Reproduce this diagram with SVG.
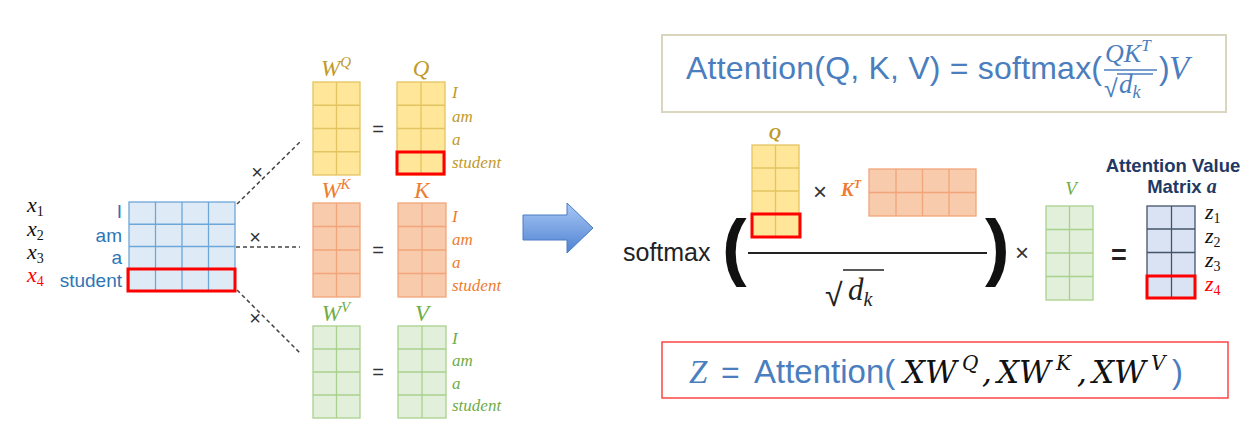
<svg xmlns="http://www.w3.org/2000/svg" width="1252" height="430" viewBox="0 0 1252 430">
<style>
.sans{font-family:"Liberation Sans",Arial,sans-serif}
.mi{font-family:"Liberation Serif","Times New Roman",serif;font-style:italic}
.mw{font-family:"DejaVu Serif","Liberation Serif",serif;font-style:italic}
.up{font-family:"Liberation Serif","Times New Roman",serif}
.gx rect,.gx line{stroke:#6fa6d8;stroke-width:1.3}
.gx rect{fill:#deebf7}
.gq rect,.gq line{stroke:#e3c462;stroke-width:1.3}
.gq rect{fill:#ffe699}
.gk rect,.gk line{stroke:#f2a57a;stroke-width:1.3}
.gk rect{fill:#f8cbad}
.gv rect,.gv line{stroke:#a9d18e;stroke-width:1.3}
.gv rect{fill:#e2efda}
.gz rect,.gz line{stroke:#44546a;stroke-width:1.3}
.gz rect{fill:#dae3f3}
.hl{fill:none;stroke:#ff0000;stroke-width:3}
.tq{fill:#c19a2b}
.tk{fill:#ed7d31}
.tv{fill:#70ad47}
.tb{fill:#2e75b6}
.op{font-family:"Liberation Sans",Arial,sans-serif;fill:#333}
.dash{stroke:#444;stroke-width:1.5;stroke-dasharray:4 3;fill:none}
.blue{fill:#4a7ebe}
</style>
<defs>
<linearGradient id="arrowGrad" x1="0" y1="0" x2="0" y2="1">
<stop offset="0" stop-color="#a9c8f5"/>
<stop offset="1" stop-color="#4f82d2"/>
</linearGradient>
</defs>

<g id="connectors">
<line class="dash" x1="237" y1="204" x2="302" y2="140"/>
<line class="dash" x1="236" y1="247" x2="300" y2="247"/>
<line class="dash" x1="237" y1="290" x2="300" y2="353"/>
</g>

<g id="x-input">
<g class="gx">
<rect x="129" y="202" width="106" height="89"/>
<line x1="155.5" y1="202" x2="155.5" y2="291"/>
<line x1="182" y1="202" x2="182" y2="291"/>
<line x1="208.5" y1="202" x2="208.5" y2="291"/>
<line x1="129" y1="224.25" x2="235" y2="224.25"/>
<line x1="129" y1="246.5" x2="235" y2="246.5"/>
<line x1="129" y1="268.75" x2="235" y2="268.75"/>
</g>
<rect class="hl" x="128" y="269" width="107" height="22"/>
<g class="sans tb" font-size="19" text-anchor="end">
<text x="122" y="218">I</text>
<text x="122" y="242">am</text>
<text x="122" y="264">a</text>
<text x="122" y="287">student</text>
</g>
<g font-size="22">
<text x="27" y="212" class="mi" fill="#111">x<tspan class="up" font-style="normal" font-size="14" dy="4">1</tspan></text>
<text x="27" y="236" class="mi" fill="#111">x<tspan class="up" font-style="normal" font-size="14" dy="4">2</tspan></text>
<text x="27" y="259" class="mi" fill="#111">x<tspan class="up" font-style="normal" font-size="14" dy="4">3</tspan></text>
<text x="27" y="282" class="mi" fill="#ff0000">x<tspan class="up" font-style="normal" font-size="14" dy="4">4</tspan></text>
</g>
</g>

<g id="ops-left" class="op">
<text x="257" y="179" font-size="20" text-anchor="middle">×</text>
<text x="255" y="244" font-size="20" text-anchor="middle">×</text>
<text x="255" y="325" font-size="20" text-anchor="middle">×</text>
<text x="378" y="136" font-size="20" text-anchor="middle">=</text>
<text x="378" y="257" font-size="20" text-anchor="middle">=</text>
<text x="378" y="379" font-size="20" text-anchor="middle">=</text>
</g>

<g id="wq">
<text x="336" y="76" class="mi tq" font-size="23" text-anchor="middle">W<tspan font-size="15" dy="-9">Q</tspan></text>
<g class="gq">
<rect x="313" y="82" width="47" height="93"/>
<line x1="336.5" y1="82" x2="336.5" y2="175"/>
<line x1="313" y1="105.25" x2="360" y2="105.25"/>
<line x1="313" y1="128.5" x2="360" y2="128.5"/>
<line x1="313" y1="151.75" x2="360" y2="151.75"/>
</g>
</g>

<g id="q">
<text x="421" y="76" class="mi tq" font-size="23" text-anchor="middle">Q</text>
<g class="gq">
<rect x="397" y="82" width="48" height="93"/>
<line x1="421" y1="82" x2="421" y2="175"/>
<line x1="397" y1="105.25" x2="445" y2="105.25"/>
<line x1="397" y1="128.5" x2="445" y2="128.5"/>
<line x1="397" y1="151.75" x2="445" y2="151.75"/>
</g>
<rect class="hl" x="397" y="152" width="47" height="22"/>
<g class="mi tq" font-size="17">
<text x="452" y="98">I</text>
<text x="452" y="122">am</text>
<text x="452" y="145">a</text>
<text x="452" y="168">student</text>
</g>
</g>

<g id="wk">
<text x="336" y="198" class="mi tk" font-size="23" text-anchor="middle">W<tspan font-size="15" dy="-9">K</tspan></text>
<g class="gk">
<rect x="313" y="203" width="47" height="94"/>
<line x1="336.5" y1="203" x2="336.5" y2="297"/>
<line x1="313" y1="226.5" x2="360" y2="226.5"/>
<line x1="313" y1="250" x2="360" y2="250"/>
<line x1="313" y1="273.5" x2="360" y2="273.5"/>
</g>
</g>

<g id="k">
<text x="422" y="198" class="mi tk" font-size="23" text-anchor="middle">K</text>
<g class="gk">
<rect x="398" y="203" width="48" height="94"/>
<line x1="422" y1="203" x2="422" y2="297"/>
<line x1="398" y1="226.5" x2="446" y2="226.5"/>
<line x1="398" y1="250" x2="446" y2="250"/>
<line x1="398" y1="273.5" x2="446" y2="273.5"/>
</g>
<g class="mi tk" font-size="17">
<text x="452" y="222">I</text>
<text x="452" y="245">am</text>
<text x="452" y="268">a</text>
<text x="452" y="291">student</text>
</g>
</g>

<g id="wv">
<text x="336" y="321" class="mi tv" font-size="23" text-anchor="middle">W<tspan font-size="15" dy="-9">V</tspan></text>
<g class="gv">
<rect x="313" y="326" width="47" height="92"/>
<line x1="336.5" y1="326" x2="336.5" y2="418"/>
<line x1="313" y1="349" x2="360" y2="349"/>
<line x1="313" y1="372" x2="360" y2="372"/>
<line x1="313" y1="395" x2="360" y2="395"/>
</g>
</g>

<g id="v">
<text x="422" y="321" class="mi tv" font-size="23" text-anchor="middle">V</text>
<g class="gv">
<rect x="398" y="326" width="48" height="92"/>
<line x1="422" y1="326" x2="422" y2="418"/>
<line x1="398" y1="349" x2="446" y2="349"/>
<line x1="398" y1="372" x2="446" y2="372"/>
<line x1="398" y1="395" x2="446" y2="395"/>
</g>
<g class="mi tv" font-size="17">
<text x="452" y="344">I</text>
<text x="452" y="366">am</text>
<text x="452" y="389">a</text>
<text x="452" y="411">student</text>
</g>
</g>

<g id="arrow">
<polygon points="523,215 567,215 567,203 593,228 567,253 567,240 523,240" fill="url(#arrowGrad)" stroke="#4a7cc4" stroke-width="1"/>
</g>

<g id="formula-top">
<rect x="662" y="35" width="564" height="77" fill="#fff" stroke="#d9d5bf" stroke-width="2"/>
<text x="686" y="79" class="sans blue" font-size="32" textLength="416" lengthAdjust="spacing">Attention(Q, K, V) = softmax(</text>
<text x="1105" y="62" class="mi blue" font-size="26">QK<tspan font-size="17" dy="-11">T</tspan></text>
<line x1="1104" y1="70" x2="1157" y2="70" stroke="#4a7ebe" stroke-width="1.6"/>
<text x="1104" y="97" class="sans blue" font-size="25">√</text>
<line x1="1117" y1="74" x2="1153" y2="74" stroke="#4a7ebe" stroke-width="1.4"/>
<text x="1119" y="93" class="mi blue" font-size="27">d<tspan font-size="18" dy="5">k</tspan></text>
<text x="1159" y="79" class="sans blue" font-size="32">)</text>
<text x="1169" y="79" class="mi blue" font-size="33">V</text>
</g>

<g id="q-small">
<text x="775" y="139" class="mi tq" font-size="17" font-weight="bold" text-anchor="middle">Q</text>
<g class="gq">
<rect x="752" y="145" width="47" height="92"/>
<line x1="775.5" y1="145" x2="775.5" y2="237"/>
<line x1="752" y1="168" x2="799" y2="168"/>
<line x1="752" y1="191" x2="799" y2="191"/>
<line x1="752" y1="214" x2="799" y2="214"/>
</g>
<rect class="hl" x="752" y="214" width="48" height="23"/>
</g>

<g id="kt">
<text x="841" y="196" class="mi tk" font-size="19" font-weight="bold">K<tspan font-size="12" dy="-8">T</tspan></text>
<g class="gk">
<rect x="869" y="169" width="107" height="47"/>
<line x1="896" y1="169" x2="896" y2="216"/>
<line x1="922.5" y1="169" x2="922.5" y2="216"/>
<line x1="949" y1="169" x2="949" y2="216"/>
<line x1="869" y1="192.5" x2="976" y2="192.5"/>
</g>
</g>

<g id="softmax-expr">
<text x="820" y="200" class="op" font-size="24" text-anchor="middle" fill="#222">×</text>
<text x="623" y="261" class="sans" font-size="25" fill="#222">softmax</text>
<text x="722" y="272" class="sans" font-size="74" font-weight="bold" fill="#111">(</text>
<line x1="748" y1="253" x2="987" y2="253" stroke="#222" stroke-width="2"/>
<text x="825" y="306" class="sans" font-size="32" fill="#222">√</text>
<line x1="843" y1="270" x2="884" y2="270" stroke="#222" stroke-width="1.5"/>
<text x="848" y="300" class="mi" font-size="31" fill="#222">d<tspan font-size="20" dy="6">k</tspan></text>
<text x="985" y="272" class="sans" font-size="74" font-weight="bold" fill="#111">)</text>
<text x="1022" y="261" class="op" font-size="24" text-anchor="middle" fill="#222">×</text>
</g>

<g id="v-small">
<text x="1071" y="195" class="mi tv" font-size="19" text-anchor="middle">V</text>
<g class="gv">
<rect x="1046" y="206" width="47" height="94"/>
<line x1="1069.5" y1="206" x2="1069.5" y2="300"/>
<line x1="1046" y1="229.5" x2="1093" y2="229.5"/>
<line x1="1046" y1="253" x2="1093" y2="253"/>
<line x1="1046" y1="276.5" x2="1093" y2="276.5"/>
</g>
<text x="1119" y="264" class="sans" font-size="27" font-weight="bold" text-anchor="middle" fill="#222">=</text>
</g>

<g id="attention-value">
<text x="1173" y="172" class="sans" font-size="18.5" font-weight="bold" text-anchor="middle" fill="#1f3864">Attention Value</text>
<text x="1182" y="193" class="sans" font-size="18.5" font-weight="bold" text-anchor="middle" fill="#1f3864">Matrix <tspan class="mi" font-weight="bold" font-size="20">a</tspan></text>
<g class="gz">
<rect x="1147" y="206" width="48" height="92"/>
<line x1="1171.5" y1="206" x2="1171.5" y2="298"/>
<line x1="1147" y1="229" x2="1195" y2="229"/>
<line x1="1147" y1="252.5" x2="1195" y2="252.5"/>
<line x1="1147" y1="276" x2="1195" y2="276"/>
</g>
<rect class="hl" x="1147" y="276" width="48" height="22"/>
<g font-size="22">
<text x="1205" y="219" class="mi" fill="#111">z<tspan class="up" font-style="normal" font-size="14" dy="4">1</tspan></text>
<text x="1205" y="243" class="mi" fill="#111">z<tspan class="up" font-style="normal" font-size="14" dy="4">2</tspan></text>
<text x="1205" y="267" class="mi" fill="#111">z<tspan class="up" font-style="normal" font-size="14" dy="4">3</tspan></text>
<text x="1205" y="291" class="mi" fill="#ff0000">z<tspan class="up" font-style="normal" font-size="14" dy="4">4</tspan></text>
</g>
</g>

<g id="formula-bottom">
<rect x="662" y="342" width="566" height="56" fill="#fff" stroke="#ff4545" stroke-width="1.5"/>
<text x="689" y="383" class="mi blue" font-size="33">Z</text>
<text x="721" y="383" class="sans blue" font-size="32">=</text>
<text x="754" y="383" class="sans blue" font-size="33">Attention(</text>
<text y="383" class="mw" font-size="31" fill="#111"><tspan x="903">X</tspan><tspan x="925">W</tspan><tspan x="962" font-size="20" dy="-13">Q</tspan><tspan x="982" dy="13">,</tspan><tspan x="997">X</tspan><tspan x="1019">W</tspan><tspan x="1056" font-size="20" dy="-13">K</tspan><tspan x="1077" dy="13">,</tspan><tspan x="1092">X</tspan><tspan x="1114">W</tspan><tspan x="1151" font-size="20" dy="-13">V</tspan></text>
<text x="1172" y="383" class="sans blue" font-size="33">)</text>
</g>
</svg>
